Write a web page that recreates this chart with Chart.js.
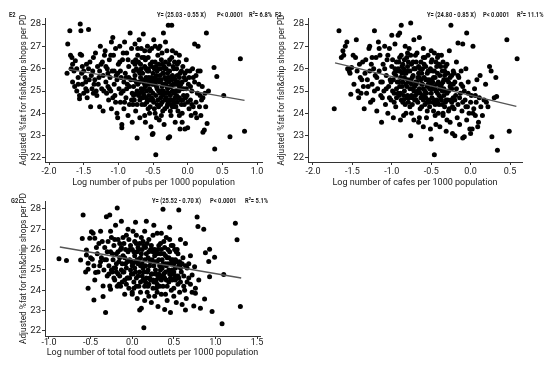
<!DOCTYPE html>
<html>
<head>
<meta charset="utf-8">
<script src="https://cdn.jsdelivr.net/npm/chart.js@4.4.1/dist/chart.umd.min.js"></script>
<style>
  body { margin: 0; background: #fff; }
  #wrap { position: relative; width: 550px; height: 370px; overflow: hidden; font-family: Roboto, 'Open Sans', sans-serif; color: #222; }
  canvas { position: absolute; }
  .tag, .eq { position: absolute; font-size: 8px; line-height: 9px; font-weight: bold; white-space: nowrap; color: #1a1a1a;
    transform: scaleX(0.72); transform-origin: left center; }
</style>
</head>
<body>
<div id="wrap">
  <canvas id="cE" width="275" height="190" style="left:0;top:0"></canvas>
  <canvas id="cF" width="275" height="190" style="left:275px;top:0"></canvas>
  <canvas id="cG" width="275" height="185" style="left:0;top:185px"></canvas>

  <div class="tag" style="left:9px;top:10px">E2</div>
  <div class="eq" style="left:157px;top:10px">Y= (25.03 - 0.55 X)</div>
  <div class="eq" style="left:217px;top:10px">P&lt; 0.0001</div>
  <div class="eq" style="left:249px;top:10px">R²= 6.8%</div>

  <div class="tag" style="left:275px;top:10px">F2</div>
  <div class="eq" style="left:427px;top:10px">Y= (24.80 - 0.85 X)</div>
  <div class="eq" style="left:483px;top:10px">P&lt; 0.0001</div>
  <div class="eq" style="left:517px;top:10px">R²= 11.1%</div>

  <div class="tag" style="left:11px;top:196px">G2</div>
  <div class="eq" style="left:152px;top:196px">Y= (25.52 - 0.70 X)</div>
  <div class="eq" style="left:210px;top:196px">P&lt; 0.0001</div>
  <div class="eq" style="left:245px;top:196px">R²= 5.1%</div>
</div>
<script>
// tick labels
const fatTicks = [22, 23, 24, 25, 26, 27, 28];
const pubsTicks = [-2.0, -1.5, -1.0, -0.5, 0.0, 0.5, 1.0];
const cafesTicks = [-2.0, -1.5, -1.0, -0.5, 0.0, 0.5];
const outletsTicks = [-1.0, -0.5, 0.0, 0.5, 1.0, 1.5];

// fitted lines (end points)
const pubsFit = [[-1.72, 25.98], [0.82, 24.58]];
const cafesFit = [[-1.72, 26.26], [0.58, 24.31]];
const outletsFit = [[-0.87, 26.13], [1.31, 24.60]];

// E2: log pubs per 1000 vs adjusted %fat
const pubsPoints = [
  [-1.74,25.8],[-1.73,27.1],[-1.70,27.7],[-1.69,26.6],[-1.67,26.5],[-1.66,26.2],[-1.68,26.0],[-1.64,25.9],[-1.66,25.4],[-1.63,25.2],
  [-1.62,26.35],[-1.60,26.0],[-1.60,25.0],[-1.58,25.3],[-1.56,24.8],[-1.56,24.65],[-1.55,28.0],[-1.54,27.7],[-1.55,26.65],[-1.53,26.6],
  [-1.53,25.8],[-1.52,25.3],[-1.50,25.9],[-1.50,24.9],[-1.48,25.6],[-1.47,25.1],[-1.46,26.2],[-1.45,25.0],[-1.45,24.7],[-1.43,27.75],
  [-1.42,25.5],[-1.41,26.3],[-1.40,24.3],[-1.38,25.1],
  [-1.37,25.9],[-1.36,26.5],[-1.35,25.3],[-1.33,26.7],[-1.32,25.0],[-1.31,24.8],[-1.30,26.1],[-1.28,25.6],[-1.27,24.3],[-1.26,27.0],
  [-1.25,26.2],[-1.24,25.1],[-1.22,25.7],[-1.22,24.1],[-1.20,26.6],[-1.19,26.8],[-1.18,25.4],[-1.17,24.9],[-1.16,26.0],[-1.15,25.2],
  [-1.14,24.6],[-1.13,26.4],[-1.12,25.6],[-1.11,25.0],[-1.10,27.2],[-1.10,24.2],[-1.09,25.9],[-1.08,27.4],
  [-1.07,26.6],[-1.06,25.3],[-1.05,24.8],[-1.04,26.9],[-1.03,25.7],[-1.02,24.0],[-1.01,23.8],[-1.00,26.2],[-0.99,25.1],[-0.98,27.0],
  [-0.97,24.5],[-0.96,25.6],[-0.95,23.5],[-0.95,23.35],[-0.94,26.4],[-0.93,25.0],[-0.92,24.2],[-0.91,27.2],[-0.90,25.8],[-0.89,24.7],
  [-0.88,26.7],[-0.87,25.3],[-0.86,23.9],[-0.85,26.1],[-0.84,24.4],[-0.83,27.6],[-0.82,25.5],[-0.81,26.9],[-0.80,24.9],[-0.80,23.6],
  [-0.79,26.3],[-0.78,25.2],[-0.77,24.6],[-0.76,27.1],[-0.76,25.7],[-0.75,24.1],[-0.74,26.0],[-0.73,22.9],[-0.73,25.0],[-0.72,26.6],
  [-0.71,24.8],[-0.70,25.4],[-0.70,27.3],[-0.69,23.8],[-0.68,26.2],[-0.67,25.1],[-0.66,24.4],[-0.65,25.8],[-0.64,27.55],[-0.64,24.9],
  [-0.63,26.5],[-0.62,25.3],[-0.61,23.6],[-0.60,26.0],[-0.60,24.7],[-0.59,25.5],[-0.58,27.0],[-0.57,24.2],[-0.56,25.9],[-0.55,25.1],
  [-0.55,26.8],[-0.54,24.6],[-0.53,23.4],[-0.52,25.6],[-0.51,23.05],[-0.51,26.3],[-0.50,24.9],[-0.50,23.1],[-0.49,27.3],[-0.48,25.3],
  [-0.47,24.0],[-0.46,22.15],[-0.46,26.1],[-0.45,25.7],[-0.44,24.4],[-0.43,26.6],[-0.42,25.0],[-0.41,23.7],[-0.40,27.0],[-0.40,25.4],
  [-0.39,24.7],[-0.38,26.4],[-0.37,25.2],[-0.36,24.1],[-0.35,27.6],[-0.35,25.8],[-0.34,23.5],[-0.33,26.0],[-0.32,24.9],[-0.31,25.5],
  [-0.30,26.8],[-0.30,24.3],[-0.29,25.1],[-0.28,22.9],[-0.28,27.95],[-0.27,26.2],[-0.26,22.95],[-0.26,24.6],[-0.25,25.6],[-0.24,23.9],
  [-0.23,27.95],[-0.23,26.5],[-0.22,25.0],[-0.21,24.4],[-0.20,26.0],[-0.19,25.3],[-0.18,23.6],[-0.17,26.7],[-0.16,24.8],[-0.15,25.7],
  [-0.14,24.1],[-0.13,26.3],[-0.12,25.2],[-0.11,23.3],[-0.10,24.6],[-0.09,25.9],[-0.08,24.0],[-0.07,26.1],[-0.06,25.1],[-0.05,24.4],
  [-0.04,23.3],[-0.03,25.5],[-0.02,26.4],[-0.01,24.8],[0.00,23.35],[0.01,25.3],[0.02,24.2],
  [0.03,25.9],[0.04,24.6],[0.05,23.9],[0.06,25.0],[0.07,26.0],[0.08,24.3],[0.10,27.1],[0.10,25.4],[0.11,24.0],[0.12,25.7],
  [0.13,23.8],[0.14,24.9],[0.15,27.0],[0.16,25.3],[0.17,24.3],[0.18,25.9],[0.19,23.9],[0.20,24.6],[0.21,25.2],[0.22,23.15],
  [0.24,23.25],[0.25,24.9],[0.26,24.3],[0.27,27.6],[0.28,23.55],[0.30,25.0],[0.38,26.05],[0.39,22.4],[0.42,25.65],[0.52,24.8],
  [0.61,22.95],[0.76,26.45],[0.82,23.2],
  [-0.78,25.9],[-0.77,25.5],[-0.75,26.4],[-0.74,24.9],[-0.72,25.3],[-0.71,25.9],[-0.69,24.6],[-0.68,25.6],[-0.67,26.0],[-0.66,25.0],
  [-0.65,24.7],[-0.64,25.4],[-0.63,24.8],[-0.62,26.1],[-0.61,25.2],[-0.60,25.6],[-0.59,24.5],[-0.58,25.9],[-0.57,25.3],[-0.56,24.8],
  [-0.55,25.5],[-0.54,26.2],[-0.53,25.0],[-0.52,24.7],[-0.51,25.3],[-0.50,25.8],[-0.49,24.5],[-0.48,26.0],[-0.47,25.6],[-0.46,24.8],
  [-0.45,25.2],[-0.44,25.9],[-0.43,24.6],[-0.42,26.2],[-0.41,25.5],[-0.40,24.9],[-0.39,26.0],[-0.38,25.0],[-0.37,24.5],[-0.36,25.8],
  [-0.35,25.3],[-0.34,24.9],[-0.33,25.6],[-0.32,26.3],[-0.31,24.7],[-0.30,25.2],[-0.29,25.8],[-0.28,24.5],[-0.27,25.4],[-0.26,25.9],
  [-0.25,24.8],[-0.24,25.2],[-0.23,24.6],[-0.22,25.7],[-0.21,26.1],[-0.20,24.9],[-0.19,24.5],[-0.18,25.5],[-0.17,25.0],[-0.16,26.0],
  [-0.15,24.5],[-0.14,25.4],[-0.12,24.7],[-0.11,25.8],[-0.09,25.1],[-0.07,24.6],[-0.05,25.6],[-0.03,24.7],[-0.01,25.9],[-0.55,24.0],
  [-0.45,23.8],[-0.38,23.9],[-0.33,24.2],[-0.25,24.1],[-0.18,24.3],[-0.12,23.9],[-0.08,23.6],[-0.62,23.9],[-0.92,25.4],[-0.88,25.1],
  [-0.85,25.6],[-0.97,25.9],[-1.02,25.5],[-1.08,24.7],[-1.15,25.8],[-0.72,26.9],[-0.62,26.8],[-0.52,26.9],[-0.42,26.9],[-0.32,27.2],
  [-0.22,26.8],[-0.12,26.6],[-0.47,27.0],[-0.57,26.5],[-0.67,26.9],[-0.37,26.7],
  [-1.58,25.6],[-1.52,26.1],[-1.47,25.4],[-1.43,26.0],[-1.39,25.7],[-1.36,24.9],[-1.34,25.5],[-1.29,25.3],[-1.27,25.9],[-1.23,26.3],
  [-1.21,25.0],[-1.18,26.1],[-1.13,25.1],[-1.11,26.6],[-1.06,25.9],[-1.04,24.5],[-1.01,25.8],[-0.98,26.3],[-0.96,24.9],[-0.93,26.7],
  [-0.91,24.5],[-0.89,25.6],[-0.86,26.4],[-0.84,25.2],[-0.81,24.6],[-0.79,24.4],
  [-0.78,24.8],[-0.76,26.2],[-0.74,25.4],[-0.73,24.4],[-0.71,26.3],[-0.70,24.9],[-0.69,25.8],[-0.67,24.7],[-0.66,26.5],[-0.65,25.5],
  [-0.63,25.1],[-0.62,24.4],[-0.61,26.4],[-0.59,25.0],[-0.58,24.6],[-0.57,26.0],[-0.56,25.6],[-0.54,24.3],[-0.53,25.4],[-0.52,26.1],
  [-0.50,24.6],[-0.49,25.5],[-0.48,24.2],[-0.47,26.3],[-0.46,25.4],[-0.44,25.1],[-0.43,25.5],[-0.42,24.3],[-0.41,26.0],[-0.40,25.7],
  [-0.39,24.4],[-0.38,25.5],[-0.37,26.2],[-0.36,24.8],[-0.35,25.0],[-0.34,26.1],[-0.33,24.6],[-0.32,25.3],[-0.31,26.0],[-0.30,24.9],
  [-0.29,24.4],[-0.28,25.6],[-0.27,24.9],[-0.26,26.4],[-0.25,25.2],[-0.24,24.4],[-0.23,25.5],[-0.22,24.3],[-0.21,25.3],[-0.20,25.6],
  [-0.19,26.3],[-0.18,24.7],[-0.17,24.3],[-0.16,25.3],[-0.15,26.2],[-0.14,24.7],[-0.13,25.0],[-0.12,25.6],[-0.10,25.3],[-0.09,24.4],
  [-0.08,25.4],[-0.06,24.8],[-0.04,25.8],[-0.02,25.1],[0.00,24.5],[0.02,25.6],[0.04,25.2],[0.06,24.4],[0.08,25.6],[0.12,24.5],
  [0.15,25.9],[0.18,24.8],[0.22,24.7]
];

// F2: log cafes per 1000 vs adjusted %fat
const cafesPoints = [
  [-1.73,24.2],[-1.67,27.7],[-1.64,26.5],[-1.62,26.8],[-1.61,26.6],[-1.59,27.0],[-1.57,27.2],[-1.56,26.0],[-1.54,25.9],[-1.53,25.8],
  [-1.51,26.05],[-1.52,24.85],[-1.49,26.6],[-1.46,26.5],[-1.45,27.3],[-1.43,25.0],[-1.42,24.7],[-1.40,25.6],[-1.38,25.5],[-1.37,26.3],
  [-1.36,25.2],[-1.35,24.2],[-1.34,25.8],[-1.33,26.4],[-1.32,24.9],[-1.31,25.5],
  [-1.29,26.9],[-1.28,27.0],[-1.27,24.5],[-1.26,26.2],[-1.25,25.3],[-1.24,24.6],[-1.23,26.0],[-1.22,27.7],[-1.21,25.7],[-1.20,26.5],
  [-1.19,24.1],[-1.18,25.1],[-1.17,27.2],[-1.16,25.9],[-1.15,26.6],[-1.14,24.8],[-1.13,23.6],[-1.12,25.4],[-1.11,26.2],[-1.10,25.0],
  [-1.09,27.0],[-1.08,24.4],[-1.07,25.7],[-1.06,26.4],[-1.05,24.0],[-1.04,25.2],[-1.03,26.9],[-1.02,25.5],[-1.01,24.6],[-1.00,26.1],
  [-1.00,27.5],
  [-0.99,25.0],[-0.98,23.8],[-0.97,25.8],[-0.96,27.1],[-0.95,24.3],[-0.94,26.3],[-0.93,25.4],[-0.92,27.5],[-0.91,24.8],[-0.90,27.6],
  [-0.90,25.9],[-0.89,23.7],[-0.88,27.95],[-0.88,26.6],[-0.87,25.2],[-0.86,24.5],[-0.85,26.0],[-0.84,25.6],[-0.83,27.0],[-0.82,24.0],
  [-0.82,25.3],[-0.81,26.5],[-0.80,24.8],[-0.79,25.9],[-0.78,26.9],[-0.77,24.3],[-0.76,28.05],[-0.76,23.0],[-0.76,25.5],[-0.75,26.2],
  [-0.74,24.7],[-0.73,25.1],[-0.72,27.3],[-0.72,23.7],[-0.71,26.0],[-0.70,25.4],
  [-0.69,24.6],[-0.68,26.7],[-0.67,25.0],[-0.66,23.6],[-0.66,25.8],[-0.65,27.4],[-0.64,24.2],[-0.63,26.3],[-0.62,25.3],[-0.61,24.8],
  [-0.60,26.9],[-0.60,23.4],[-0.59,25.6],[-0.58,24.4],[-0.57,26.1],[-0.56,23.8],[-0.55,25.2],[-0.54,26.6],[-0.53,24.6],[-0.52,25.9],
  [-0.51,23.3],[-0.50,22.85],[-0.50,24.9],[-0.49,26.4],[-0.48,25.4],[-0.47,24.1],[-0.46,22.15],[-0.46,26.7],[-0.45,25.1],[-0.44,23.5],
  [-0.43,24.6],[-0.42,25.8],[-0.41,24.0],[-0.40,26.2],[-0.40,25.3],
  [-0.39,23.4],[-0.38,24.7],[-0.37,26.6],[-0.36,25.0],[-0.35,23.9],[-0.34,25.5],[-0.33,24.3],[-0.32,26.1],[-0.31,23.2],[-0.30,24.9],
  [-0.29,25.8],[-0.28,24.1],[-0.27,26.8],[-0.26,23.6],[-0.25,27.95],[-0.25,25.3],[-0.24,24.5],[-0.23,23.1],[-0.22,25.9],[-0.21,24.2],
  [-0.20,23.0],[-0.20,25.4],[-0.19,24.8],[-0.18,26.3],[-0.17,23.8],[-0.16,27.15],[-0.16,24.4],[-0.15,25.6],[-0.14,23.5],[-0.13,24.9],
  [-0.12,25.9],[-0.11,24.1],[-0.10,27.1],[-0.10,22.9],[-0.10,25.2],
  [-0.08,22.95],[-0.07,24.6],[-0.06,26.0],[-0.05,27.6],[-0.05,23.7],[-0.04,24.3],[-0.03,25.4],[-0.02,24.0],[-0.01,23.3],[0.00,23.1],
  [0.01,24.8],[0.02,23.3],[0.03,27.0],[0.04,24.2],[0.05,25.1],[0.06,23.9],[0.07,24.5],[0.08,25.5],[0.09,23.4],[0.10,23.6],
  [0.11,24.7],[0.12,25.7],[0.13,24.3],[0.15,23.9],[0.17,24.6],[0.19,25.3],[0.20,24.5],[0.22,24.3],[0.24,26.1],[0.26,25.9],
  [0.27,22.95],[0.30,24.7],[0.32,25.6],[0.33,24.75],[0.34,22.35],[0.46,27.3],[0.49,23.2],[0.59,26.45],
  [-0.98,25.5],[-0.97,24.9],[-0.95,25.7],[-0.94,25.1],[-0.92,26.0],[-0.91,25.4],[-0.89,24.9],[-0.87,25.8],[-0.86,26.2],[-0.85,24.6],
  [-0.84,25.0],[-0.83,25.9],[-0.81,25.2],[-0.80,26.1],[-0.79,24.5],[-0.78,25.4],[-0.77,25.9],[-0.75,24.8],[-0.74,25.6],[-0.73,26.3],
  [-0.72,25.0],[-0.71,24.6],[-0.70,26.0],[-0.69,25.3],[-0.68,24.9],[-0.67,25.6],[-0.65,25.1],[-0.64,26.0],[-0.63,24.7],[-0.62,25.8],
  [-0.61,25.3],[-0.60,24.6],[-0.59,26.2],[-0.58,25.0],[-0.57,25.5],[-0.56,24.9],[-0.55,25.8],[-0.54,25.3],[-0.53,24.5],[-0.52,25.1],
  [-0.51,26.0],[-0.50,25.5],[-0.49,24.7],[-0.48,25.9],[-0.47,25.2],[-0.46,24.6],[-0.45,25.6],[-0.44,25.0],[-0.43,26.1],[-0.42,24.5],
  [-0.41,25.4],[-0.40,24.8],[-0.39,25.7],[-0.38,25.2],[-0.37,24.6],[-0.36,25.9],[-0.35,25.4],[-0.34,24.8],[-0.33,25.7],[-0.32,25.0],
  [-0.31,24.6],[-0.30,25.5],[-0.28,25.0],[-0.26,25.6],[-0.24,25.1],[-0.22,24.7],[-0.90,26.5],[-0.80,26.7],[-0.70,26.6],[-0.60,26.5],
  [-0.50,26.8],[-0.42,26.5],[-0.85,23.9],[-0.75,24.0],[-0.65,23.8],[-0.55,24.1],[-0.45,23.9],[-0.35,24.0],[-0.30,23.7],
  [-1.48,25.3],[-1.44,25.9],[-1.41,26.2],[-1.39,24.9],[-1.30,25.2],[-1.28,25.9],[-1.25,26.5],[-1.22,25.0],[-1.19,25.6],[-1.16,26.9],
  [-1.14,25.4],[-1.12,24.7],[-1.09,26.0],[-1.07,25.1],[-1.05,26.6],[-1.03,24.7],[-1.01,25.4],
  [-0.99,26.4],[-0.97,24.5],[-0.96,26.0],[-0.94,24.7],[-0.93,25.9],[-0.92,24.9],[-0.91,26.3],[-0.90,25.2],[-0.89,25.6],[-0.88,24.6],
  [-0.87,26.1],[-0.86,25.4],[-0.85,24.8],[-0.84,26.4],[-0.83,24.4],[-0.82,25.8],[-0.81,24.7],[-0.80,25.5],[-0.79,26.3],[-0.78,24.7],
  [-0.77,25.1],[-0.76,26.6],[-0.75,25.3],[-0.74,24.4],[-0.73,25.7],[-0.72,26.0],[-0.71,25.2],[-0.70,24.8],[-0.69,26.3],[-0.68,25.4],
  [-0.67,24.5],[-0.66,26.1],[-0.65,25.6],[-0.64,24.9],[-0.63,25.5],[-0.62,24.3],[-0.61,26.0],[-0.60,25.1],[-0.59,24.8],[-0.58,26.5],
  [-0.57,24.7],[-0.56,25.5],[-0.55,24.5],[-0.54,25.9],[-0.53,25.5],[-0.52,24.3],[-0.51,25.3],[-0.50,26.3],[-0.49,25.1],[-0.48,24.5],
  [-0.47,25.6],[-0.46,25.9],[-0.45,24.4],[-0.44,26.3],[-0.43,25.3],[-0.42,24.9],[-0.41,26.6],[-0.40,24.4],[-0.39,25.1],[-0.38,26.1],
  [-0.37,25.3],[-0.36,24.4],[-0.35,26.3],[-0.34,25.1],[-0.33,25.9],[-0.32,24.5],[-0.31,25.8],[-0.30,26.2],[-0.29,24.6],[-0.28,25.4],
  [-0.27,24.2],[-0.26,25.2],[-0.25,24.6],[-0.24,25.7],[-0.23,24.3],[-0.22,25.3],[-0.21,25.8],[-0.20,24.6],[-0.18,25.1],[-0.16,25.7],
  [-0.14,24.7],[-0.12,25.3],[-0.10,24.5],[-0.08,25.0],[-0.06,24.3],[-0.03,24.9],[0.00,24.5],[0.03,24.0],[0.06,24.8]
];

// G2: log total food outlets per 1000 vs adjusted %fat
const outletsPoints = [
  [-0.88,25.55],[-0.79,25.46],[-0.62,25.49],[-0.59,27.7],[-0.60,26.55],[-0.55,25.98],[-0.55,25.74],[-0.53,25.03],[-0.53,24.1],[-0.53,25.33],
  [-0.51,26.56],[-0.49,26.88],[-0.48,25.53],[-0.47,26.8],[-0.46,23.52],[-0.45,26.56],[-0.44,24.87],[-0.45,24.51],[-0.42,25.8],[-0.40,26.3],
  [-0.39,25.2],[-0.38,26.9],[-0.37,25.6],[-0.35,24.21],[-0.35,23.69],[-0.34,25.0],[-0.33,26.1],[-0.32,22.9],[-0.31,27.62],[-0.31,25.5],
  [-0.30,24.7],[-0.29,26.4],[-0.28,25.2],
  [-0.27,27.7],[-0.27,24.21],[-0.26,24.05],[-0.26,25.9],[-0.25,26.6],[-0.24,24.9],[-0.23,25.5],[-0.22,26.2],[-0.21,24.5],[-0.20,27.2],
  [-0.20,25.1],[-0.19,25.8],[-0.18,28.05],[-0.18,24.2],[-0.17,26.5],[-0.16,25.4],[-0.15,24.7],[-0.14,26.0],[-0.13,27.4],[-0.13,25.0],
  [-0.12,24.4],[-0.11,25.7],[-0.10,26.3],[-0.10,24.9],[-0.09,23.8],[-0.08,25.3],[-0.07,26.7],[-0.06,24.6],[-0.05,25.9],[-0.05,27.0],
  [-0.04,24.1],[-0.03,25.5],[-0.02,26.2],[-0.01,24.8],[0.00,23.9],[0.00,25.2],
  [0.01,26.9],[0.02,24.4],[0.03,25.7],[0.04,27.35],[0.04,24.9],[0.05,26.3],[0.06,23.6],[0.07,25.3],[0.08,26.0],[0.08,24.2],
  [0.09,23.03],[0.10,25.6],[0.11,26.6],[0.11,23.12],[0.12,24.7],[0.13,25.1],[0.14,22.15],[0.14,26.2],[0.15,23.5],[0.16,24.4],
  [0.17,25.8],[0.17,27.4],[0.18,23.9],[0.19,25.0],[0.20,26.5],[0.21,24.6],[0.22,25.4],[0.23,23.4],[0.24,26.0],[0.25,24.1],
  [0.26,27.2],[0.26,25.2],[0.27,23.7],[0.28,24.8],[0.29,25.9],[0.30,26.8],[0.30,24.3],
  [0.31,23.2],[0.32,25.5],[0.33,24.6],[0.34,26.3],[0.35,23.8],[0.36,25.1],[0.37,27.98],[0.37,24.2],[0.38,25.8],[0.39,23.05],
  [0.40,24.9],[0.41,26.6],[0.42,23.5],[0.43,25.3],[0.44,24.4],[0.45,27.1],[0.45,25.9],[0.46,22.9],[0.47,24.0],[0.48,25.0],
  [0.49,26.2],[0.50,23.7],[0.51,24.6],[0.52,25.5],[0.53,23.4],[0.54,26.0],[0.55,24.3],[0.56,27.95],[0.56,25.2],[0.57,23.9],
  [0.58,26.5],[0.59,24.9],[0.60,23.3],
  [0.61,25.6],[0.62,24.2],[0.63,24.0],[0.64,26.3],[0.65,23.6],[0.66,25.1],[0.68,24.6],[0.70,25.7],[0.72,23.9],[0.74,23.23],
  [0.75,25.16],[0.76,24.1],[0.76,23.85],[0.78,27.6],[0.79,27.13],[0.80,24.5],[0.82,23.12],[0.86,27.0],[0.87,23.57],[0.88,25.85],
  [0.92,25.41],[0.93,26.02],[0.93,24.67],[0.96,22.95],[0.99,25.62],[1.08,22.35],[1.10,24.78],[1.24,27.3],[1.26,26.48],[1.30,23.2],
  [0.72,24.75],[0.64,23.03],
  [-0.19,25.3],[-0.17,24.8],[-0.15,25.6],[-0.13,26.1],[-0.11,24.9],[-0.09,25.6],[-0.07,25.1],[-0.05,24.6],[-0.03,26.0],[-0.01,25.4],
  [0.01,24.8],[0.02,25.9],[0.03,25.1],[0.05,24.6],[0.06,25.5],[0.07,26.1],[0.09,24.9],[0.10,25.2],[0.12,26.0],[0.13,24.5],
  [0.15,25.5],[0.16,26.1],[0.18,24.9],[0.19,25.6],[0.20,24.3],[0.21,25.2],[0.22,26.0],[0.23,24.8],[0.24,25.5],[0.25,24.5],
  [0.27,25.7],[0.28,25.0],[0.29,24.5],[0.30,25.4],[0.31,26.0],[0.32,24.8],[0.33,25.2],[0.34,25.8],[0.35,24.5],[0.36,25.5],
  [0.38,24.8],[0.39,26.1],[0.40,25.3],[0.41,24.5],[0.42,25.6],[0.44,25.0],[0.46,24.6],[0.47,25.5],[0.49,24.8],[0.50,25.3],
  [0.52,24.5],[0.53,25.9],[0.05,26.7],[0.15,26.9],[0.25,26.7],[0.35,26.8],[0.45,26.5],[0.00,23.8],[0.10,23.9],[0.20,23.7],
  [0.30,23.9],[0.40,23.8],[0.50,24.1],[0.55,24.7],[0.58,25.1],[-0.25,25.0],[-0.22,24.6],[-0.14,24.2],
  [-0.56,24.9],[-0.50,25.6],[-0.46,25.2],[-0.43,26.1],[-0.41,24.9],[-0.38,25.4],[-0.36,26.4],[-0.33,25.5],[-0.30,25.9],[-0.28,24.8],
  [-0.26,26.9],[-0.24,25.8],[-0.22,25.1],[-0.21,26.5],[-0.19,24.9],[-0.17,25.9],[-0.16,24.3],[-0.15,26.3],[-0.12,25.3],[-0.11,26.6],
  [-0.09,24.5],[-0.08,26.0],[-0.07,24.3],[-0.06,25.4],[-0.04,26.5],[-0.03,24.6],[-0.02,25.0],
  [0.00,26.0],[0.01,25.3],[0.02,24.1],[0.03,26.4],[0.04,25.4],[0.05,24.2],[0.06,25.9],[0.07,24.7],[0.08,25.5],[0.09,26.3],
  [0.10,24.4],[0.11,25.8],[0.12,25.3],[0.13,26.4],[0.14,24.9],[0.15,24.2],[0.16,25.2],[0.17,24.6],[0.18,26.3],[0.19,24.2],
  [0.20,25.9],[0.21,25.5],[0.22,24.5],[0.23,26.2],[0.24,24.8],[0.25,25.9],[0.26,24.4],[0.27,26.0],[0.28,25.4],[0.29,24.1],
  [0.30,25.8],[0.31,24.7],[0.32,26.2],[0.33,24.2],[0.34,25.0],[0.35,26.0],[0.36,24.7],[0.37,25.3],[0.38,26.4],[0.39,24.6],
  [0.40,25.7],[0.41,25.2],[0.42,24.2],[0.43,26.0],[0.44,25.6],[0.45,24.8],[0.46,25.3],[0.47,26.2],[0.48,24.5],[0.49,25.5],
  [0.50,24.9],[0.51,26.0],[0.52,25.1],[0.53,24.7],[0.54,25.4],[0.55,25.8],[0.56,24.6],[0.57,25.4],[0.58,24.4],[0.60,25.3],
  [0.62,24.7],[0.64,25.2],[0.66,24.4],[0.68,25.3],[0.70,24.3]
];

const yTitle = "Adjusted %fat for fish&chip shops per PD";
const textFont = "Roboto, 'Open Sans', sans-serif";

function toXY(list) {
  return list.map(([x, y]) => ({ x, y }));
}

// one panel = one scatter chart with its fitted line on top
function makePanel(id, points, fit, xTicks, xRange, yRange, xTitle, geo) {
  const axisColor = "#333";
  return new Chart(document.getElementById(id), {
    type: "scatter",
    data: {
      datasets: [
        {
          type: "line",
          data: toXY(fit),
          borderColor: "#555",
          borderWidth: 1.4,
          pointRadius: 0,
          fill: false,
        },
        {
          data: toXY(points),
          backgroundColor: "#000",
          borderWidth: 0,
          pointRadius: 2.5,
        },
      ],
    },
    options: {
      responsive: false,
      animation: false,
      events: [],
      layout: { padding: { top: geo.top, right: geo.right, bottom: geo.bottom, left: 0 } },
      plugins: { legend: { display: false }, tooltip: { enabled: false } },
      scales: {
        x: {
          type: "linear",
          min: xRange[0],
          max: xRange[1],
          afterBuildTicks: (s) => { s.ticks = xTicks.map((v) => ({ value: v })); },
          afterFit: (s) => { s.height = geo.xHeight; },
          ticks: {
            autoSkip: false,
            maxRotation: 0,
            padding: geo.xTickPad,
            color: "#222",
            font: { family: textFont, size: 9 },
            callback: (v) => Number(v).toFixed(1),
          },
          grid: { drawOnChartArea: false, drawTicks: true, tickLength: 3, color: axisColor },
          border: { display: true, color: axisColor, width: 1 },
          title: {
            display: true,
            text: xTitle,
            color: "#222",
            font: { family: textFont, size: 9 },
            padding: { top: 0, bottom: geo.xTitlePad },
          },
        },
        y: {
          type: "linear",
          min: yRange[0],
          max: yRange[1],
          afterBuildTicks: (s) => { s.ticks = fatTicks.map((v) => ({ value: v })); },
          afterFit: (s) => { s.width = geo.yWidth; },
          ticks: {
            autoSkip: false,
            padding: 1,
            color: "#222",
            font: { family: textFont, size: 9.5 },
          },
          grid: { drawOnChartArea: false, drawTicks: true, tickLength: 3, color: axisColor },
          border: { display: true, color: axisColor, width: 1 },
          title: {
            display: true,
            text: yTitle,
            color: "#222",
            font: { family: textFont, size: 8.3 },
            padding: { top: geo.yTitlePad, bottom: 0 },
          },
        },
      },
    },
  });
}

makePanel("cE", pubsPoints, pubsFit, pubsTicks, [-2.058, 1.072], [21.82, 28.27],
  "Log number of pubs per 1000 population",
  { top: 18, right: 13, bottom: 0, yWidth: 45, xHeight: 28, yTitlePad: 19, xTitlePad: 2, xTickPad: 1 });

makePanel("cF", cafesPoints, cafesFit, cafesTicks, [-2.063, 0.652], [21.82, 28.27],
  "Log number of cafes per 1000 population",
  { top: 18, right: 28, bottom: 0, yWidth: 33, xHeight: 28, yTitlePad: 2, xTitlePad: 2, xTickPad: 1 });

makePanel("cG", outletsPoints, outletsFit, outletsTicks, [-1.048, 1.536], [21.75, 28.39],
  "Log number of total food outlets per 1000 population",
  { top: 16, right: 15, bottom: 12, yWidth: 45, xHeight: 22, yTitlePad: 19, xTitlePad: 0, xTickPad: -2 });
</script>
</body>
</html>
